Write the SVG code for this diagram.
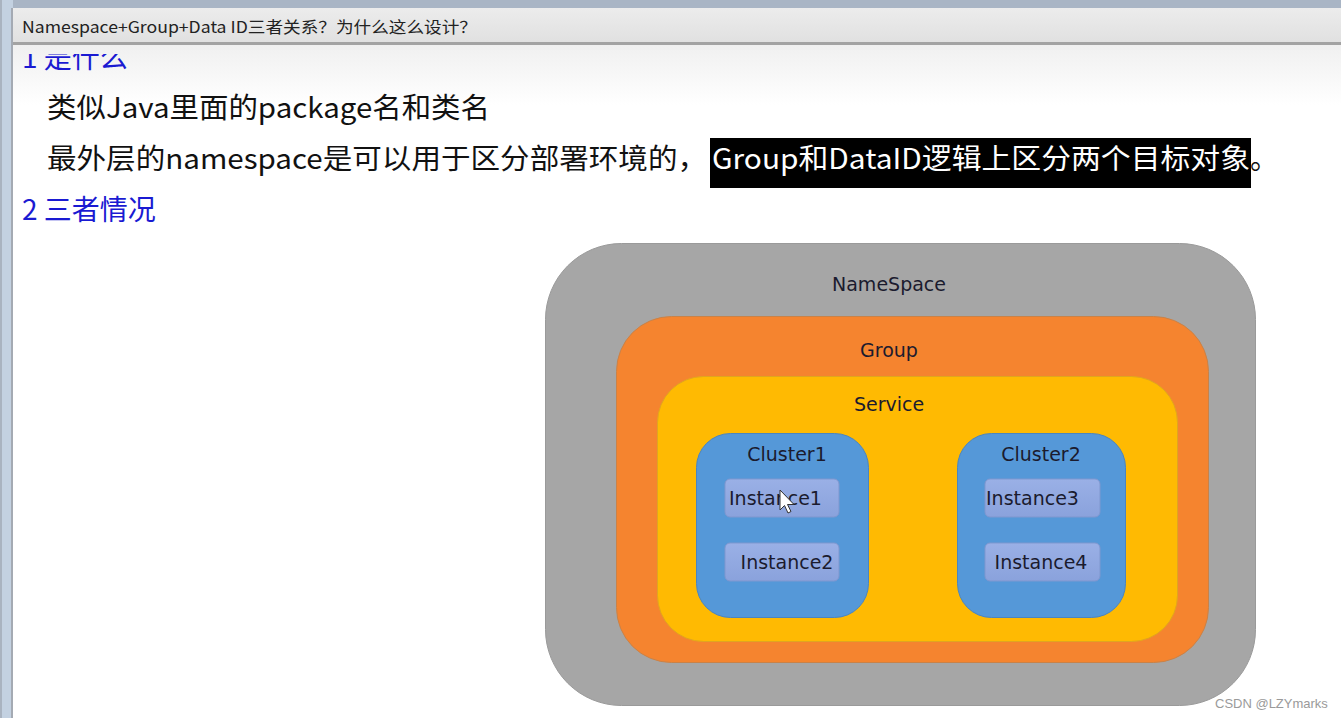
<svg xmlns="http://www.w3.org/2000/svg" width="1341" height="718" viewBox="0 0 1341 718">
<defs>
<linearGradient id="titleg" x1="0" y1="0" x2="0" y2="1"><stop offset="0" stop-color="#ececec"/><stop offset="1" stop-color="#e0e0e0"/></linearGradient>
<linearGradient id="contg" x1="0" y1="0" x2="0" y2="1"><stop offset="0" stop-color="#f0f0f0"/><stop offset="1" stop-color="#ffffff"/></linearGradient>
<linearGradient id="instg" x1="0" y1="0" x2="0" y2="1"><stop offset="0" stop-color="#9ab0e6"/><stop offset="1" stop-color="#8aa2dc"/></linearGradient>
<clipPath id="contentclip"><rect x="14" y="54" width="1327" height="664"/></clipPath>
<style>
.cjk{font-family:"Noto Sans CJK SC","Noto Sans",sans-serif;}
.blue{fill:#1a1ad2;}
.body{fill:#111;font-size:28px;}
.lbl{font-family:"DejaVu Sans",sans-serif;font-size:19px;fill:#1b1b2e;text-anchor:middle;}
.ilbl{font-family:"DejaVu Sans",sans-serif;font-size:19px;fill:#1b1b2e;}
.inst{fill:url(#instg);stroke:#7f97cf;stroke-width:1;}
.clu{fill:#5598d8;stroke:#4a85c0;stroke-width:1;}
</style>
</defs>
<!-- window frame -->
<rect x="0" y="0" width="1341" height="718" fill="#ffffff"/>
<rect x="0" y="0" width="1341" height="8" fill="#a9b5c5"/>
<rect x="0" y="0" width="13" height="718" fill="#c3d1e1"/>
<rect x="0" y="0" width="2" height="718" fill="#a9b3c0"/>
<rect x="11" y="8" width="2" height="710" fill="#a4aab3"/>
<!-- content background -->
<rect x="13" y="45" width="1328" height="60" fill="url(#contg)"/>
<rect x="13" y="105" width="1328" height="613" fill="#ffffff"/>
<!-- clipped heading -->
<g clip-path="url(#contentclip)">
<text x="22" y="68" class="cjk blue" font-size="28">1 是什么</text>
</g>
<!-- title bar -->
<g id="titlebar">
<rect x="13" y="8" width="1328" height="36" fill="url(#titleg)"/>
<rect x="13" y="42" width="1328" height="3" fill="#a3a3a3"/>
<text x="22" y="33" class="cjk" font-size="16" fill="#222" textLength="455" lengthAdjust="spacingAndGlyphs">Namespace+Group+Data ID三者关系？为什么这么设计？</text>
</g>
<!-- body text -->
<g id="texts">
<text x="47" y="118" class="cjk body" textLength="443" lengthAdjust="spacingAndGlyphs">类似Java里面的package名和类名</text>
<text x="47" y="169" class="cjk body" textLength="660" lengthAdjust="spacingAndGlyphs">最外层的namespace是可以用于区分部署环境的，</text>
<rect x="710" y="138" width="541" height="50" fill="#000"/>
<text x="712" y="169" class="cjk" font-size="28" fill="#fff" textLength="538" lengthAdjust="spacingAndGlyphs">Group和DataID逻辑上区分两个目标对象</text>
<text x="1250" y="169" class="cjk body">。</text>
<text x="22" y="220" class="cjk blue" font-size="28">2 三者情况</text>
</g>
<!-- diagram -->
<g id="namespace">
<rect x="545.5" y="243.5" width="710" height="462" rx="76" ry="76" fill="#a6a6a6" stroke="#9a9a9a" stroke-width="1"/>
<text x="889" y="291" class="lbl">NameSpace</text>
</g>
<g id="group">
<rect x="616.5" y="316.5" width="592" height="346" rx="55" ry="55" fill="#f5842f" stroke="#c98248" stroke-width="1"/>
<text x="889" y="357" class="lbl">Group</text>
</g>
<g id="service">
<rect x="657.5" y="376.5" width="520" height="265" rx="46" ry="46" fill="#ffba02" stroke="#e0a520" stroke-width="1"/>
<text x="889" y="411" class="lbl">Service</text>
</g>
<g id="cluster1">
<rect x="696.5" y="433.5" width="172" height="184" rx="34" ry="34" class="clu"/>
<text x="787" y="461" class="lbl">Cluster1</text>
</g>
<g id="instance1">
<rect x="725" y="479" width="114" height="38" rx="5" class="inst"/>
<text x="729" y="505" class="ilbl">Instance1</text>
</g>
<g id="instance2">
<rect x="725" y="543" width="114" height="38" rx="5" class="inst"/>
<text x="787" y="569" class="lbl">Instance2</text>
</g>
<g id="cluster2">
<rect x="957.5" y="433.5" width="168" height="184" rx="34" ry="34" class="clu"/>
<text x="1041" y="461" class="lbl">Cluster2</text>
</g>
<g id="instance3">
<rect x="985" y="479" width="115" height="38" rx="5" class="inst"/>
<text x="986" y="505" class="ilbl">Instance3</text>
</g>
<g id="instance4">
<rect x="985" y="543" width="115" height="38" rx="5" class="inst"/>
<text x="1041" y="569" class="lbl">Instance4</text>
</g>
<g id="connectors"></g>
<!-- mouse cursor -->
<path d="M780,490 L780,510 L784.5,505.5 L788,513 L791,511.5 L787.5,504.5 L794,504.5 Z" fill="#fff" stroke="#333" stroke-width="1"/>
<!-- watermark -->
<text x="1215" y="708" font-family="Liberation Sans, Arial, sans-serif" font-size="13" fill="#9a9a9a">CSDN @LZYmarks</text>
</svg>
